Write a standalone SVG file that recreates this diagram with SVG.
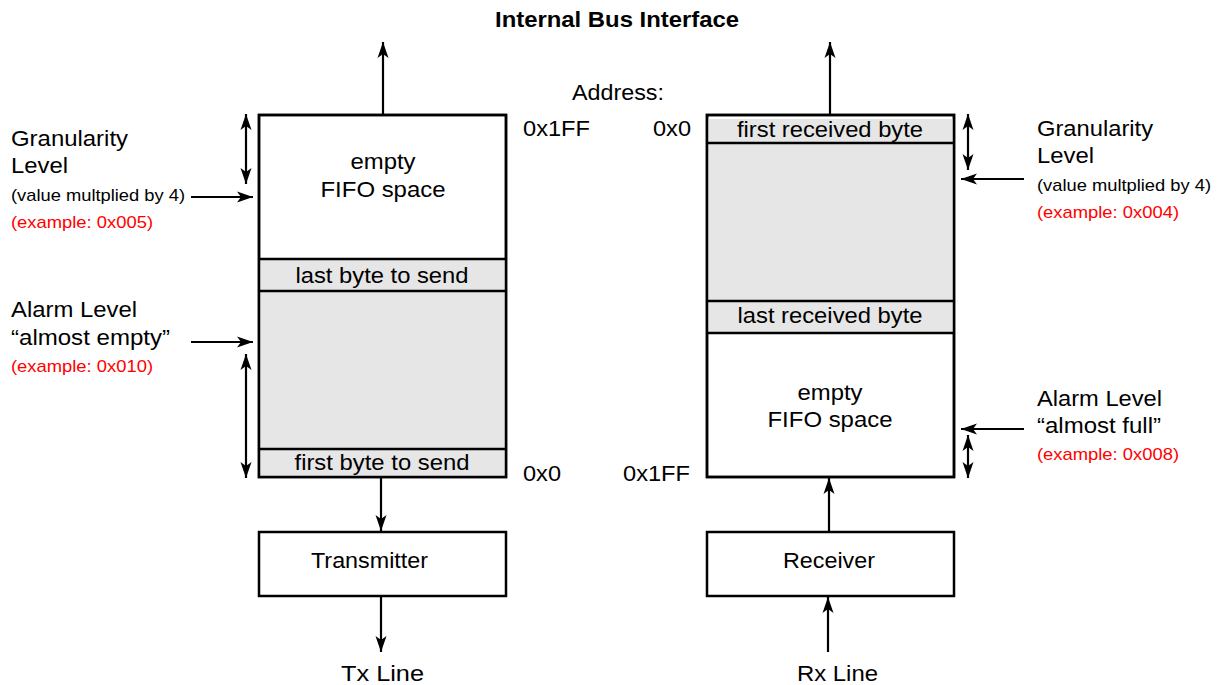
<svg xmlns="http://www.w3.org/2000/svg" width="1221" height="685" viewBox="0 0 1221 685">
<defs>
<style>
text{font-family:"Liberation Sans",Arial,Helvetica,sans-serif;fill:#000;}
.b{font-size:22px;}
.s{font-size:17px;}
.r{fill:#ff0000;}
.t{font-size:21.5px;font-weight:bold;}
.m{text-anchor:middle;}
.box{fill:#fff;stroke:#000;stroke-width:2.5;}
.g{fill:#e6e6e6;stroke:none;}
.sep{stroke:#000;stroke-width:2.5;fill:none;}
.c{stroke:#000;stroke-width:2.2;fill:none;marker-end:url(#ah);}
.d{stroke:#000;stroke-width:2.2;fill:none;marker-end:url(#ah);marker-start:url(#ah);}
</style>
<marker id="ah" markerUnits="userSpaceOnUse" markerWidth="18" markerHeight="14" viewBox="0 -7 18 14" refX="16" refY="0" orient="auto-start-reverse">
<path d="M0,-5.5 L16,0 L0,5.5 L4,0 Z" fill="#000"/>
</marker>
</defs>
<rect width="1221" height="685" fill="#fff"/>

<text class="t" x="495" y="27" textLength="244" lengthAdjust="spacingAndGlyphs">Internal Bus Interface</text>
<text class="b" x="572" y="100" textLength="92" lengthAdjust="spacingAndGlyphs">Address:</text>
<text class="b" x="523" y="136" textLength="67" lengthAdjust="spacingAndGlyphs">0x1FF</text>
<text class="b" x="653" y="136" textLength="38" lengthAdjust="spacingAndGlyphs">0x0</text>
<text class="b" x="523" y="481" textLength="38" lengthAdjust="spacingAndGlyphs">0x0</text>
<text class="b" x="623" y="481" textLength="67" lengthAdjust="spacingAndGlyphs">0x1FF</text>

<g id="tx-fifo">
<rect class="box" x="259" y="115" width="247" height="362"/>
<rect class="g" x="260" y="259" width="245" height="217"/>
<line class="sep" x1="259" y1="259" x2="506" y2="259"/>
<line class="sep" x1="259" y1="291" x2="506" y2="291"/>
<line class="sep" x1="259" y1="449" x2="506" y2="449"/>
<rect x="259" y="115" width="247" height="362" fill="none" stroke="#000" stroke-width="2.5"/>
<text class="b m" x="383" y="169" textLength="65" lengthAdjust="spacingAndGlyphs">empty</text>
<text class="b m" x="383" y="197" textLength="125" lengthAdjust="spacingAndGlyphs">FIFO space</text>
<text class="b m" x="382" y="283" textLength="173" lengthAdjust="spacingAndGlyphs">last byte to send</text>
<text class="b m" x="382" y="470" textLength="175" lengthAdjust="spacingAndGlyphs">first byte to send</text>
</g>

<g id="rx-fifo">
<rect class="box" x="707" y="115" width="247" height="362"/>
<rect class="g" x="708" y="119" width="245" height="214"/>
<line class="sep" x1="707" y1="143" x2="954" y2="143"/>
<line class="sep" x1="707" y1="301" x2="954" y2="301"/>
<line class="sep" x1="707" y1="333" x2="954" y2="333"/>
<rect x="707" y="115" width="247" height="362" fill="none" stroke="#000" stroke-width="2.5"/>
<text class="b m" x="830" y="137" textLength="186" lengthAdjust="spacingAndGlyphs">first received byte</text>
<text class="b m" x="830" y="323" textLength="185" lengthAdjust="spacingAndGlyphs">last received byte</text>
<text class="b m" x="830" y="400" textLength="65" lengthAdjust="spacingAndGlyphs">empty</text>
<text class="b m" x="830" y="427" textLength="125" lengthAdjust="spacingAndGlyphs">FIFO space</text>
</g>

<g id="transmitter">
<rect class="box" x="259" y="532" width="247" height="64"/>
<text class="b" x="311" y="568" textLength="117" lengthAdjust="spacingAndGlyphs">Transmitter</text>
</g>

<g id="receiver">
<rect class="box" x="707" y="532" width="247" height="64"/>
<text class="b" x="783" y="568" textLength="92" lengthAdjust="spacingAndGlyphs">Receiver</text>
</g>

<g id="tx-line">
<text class="b" x="341" y="681" textLength="83" lengthAdjust="spacingAndGlyphs">Tx Line</text>
</g>
<g id="rx-line">
<text class="b" x="797" y="681" textLength="81" lengthAdjust="spacingAndGlyphs">Rx Line</text>
</g>

<g id="tx-labels">
<text class="b" x="11" y="146" textLength="117" lengthAdjust="spacingAndGlyphs">Granularity</text>
<text class="b" x="11" y="173" textLength="57" lengthAdjust="spacingAndGlyphs">Level</text>
<text class="s" x="11" y="201" textLength="174" lengthAdjust="spacingAndGlyphs">(value multplied by 4)</text>
<text class="s r" x="11" y="228" textLength="142" lengthAdjust="spacingAndGlyphs">(example: 0x005)</text>
<text class="b" x="11" y="317" textLength="126" lengthAdjust="spacingAndGlyphs">Alarm Level</text>
<text class="b" x="11" y="345" textLength="159" lengthAdjust="spacingAndGlyphs">“almost empty”</text>
<text class="s r" x="11" y="372" textLength="142" lengthAdjust="spacingAndGlyphs">(example: 0x010)</text>
</g>

<g id="rx-labels">
<text class="b" x="1037" y="136" textLength="116" lengthAdjust="spacingAndGlyphs">Granularity</text>
<text class="b" x="1037" y="163" textLength="57" lengthAdjust="spacingAndGlyphs">Level</text>
<text class="s" x="1037" y="191" textLength="174" lengthAdjust="spacingAndGlyphs">(value multplied by 4)</text>
<text class="s r" x="1037" y="218" textLength="142" lengthAdjust="spacingAndGlyphs">(example: 0x004)</text>
<text class="b" x="1037" y="406" textLength="125" lengthAdjust="spacingAndGlyphs">Alarm Level</text>
<text class="b" x="1037" y="433" textLength="124" lengthAdjust="spacingAndGlyphs">“almost full”</text>
<text class="s r" x="1037" y="460" textLength="142" lengthAdjust="spacingAndGlyphs">(example: 0x008)</text>
</g>

<g id="connectors">
<line class="c" x1="383" y1="114" x2="383" y2="42"/>
<line class="c" x1="830" y1="114" x2="830" y2="42"/>
<line class="c" x1="381" y1="478" x2="381" y2="531"/>
<line class="c" x1="381" y1="597" x2="381" y2="652"/>
<line class="c" x1="828" y1="652" x2="828" y2="597"/>
<line class="c" x1="829" y1="531" x2="829" y2="478"/>
<line class="d" x1="246" y1="114" x2="246" y2="184"/>
<line class="d" x1="246" y1="354" x2="246" y2="478"/>
<line class="c" x1="191" y1="197" x2="253" y2="197"/>
<line class="c" x1="191" y1="342" x2="253" y2="342"/>
<line class="d" x1="968" y1="114" x2="968" y2="170"/>
<line class="d" x1="968" y1="435" x2="968" y2="478"/>
<line class="c" x1="1024" y1="179" x2="961" y2="179"/>
<line class="c" x1="1024" y1="429" x2="961" y2="429"/>
</g>
</svg>
